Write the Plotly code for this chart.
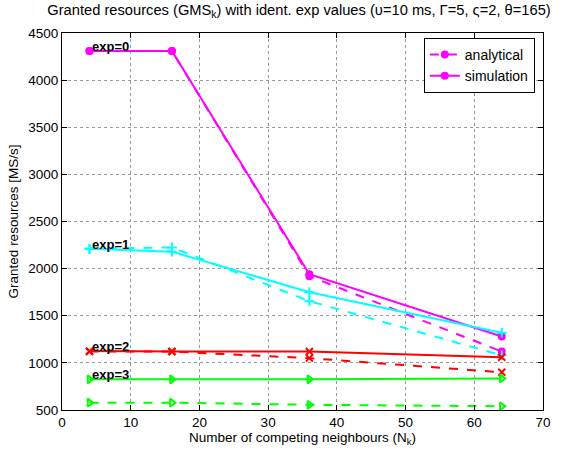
import plotly.graph_objects as go

N = [4, 16, 36, 64]
exp_labels = ["exp=0", "exp=1", "exp=2", "exp=3"]
analytical = {
    "exp=0": [4310, 4310, 1920, 1120],
    "exp=1": [2210, 2225, 1655, 1080],
    "exp=2": [1120, 1120, 1050, 900],
    "exp=3": [578, 578, 555, 540],
}
simulation = {
    "exp=0": [4310, 4310, 1940, 1280],
    "exp=1": [2210, 2180, 1750, 1320],
    "exp=2": [1125, 1120, 1120, 1060],
    "exp=3": [825, 825, 825, 835],
}
colors = {"exp=0": "#ff00ff", "exp=1": "#00ffff", "exp=2": "#ff0000", "exp=3": "#00ff00"}
symbols = {"exp=0": "circle", "exp=1": "cross-thin", "exp=2": "x-thin", "exp=3": "triangle-right-open"}
x_ticks = [0, 10, 20, 30, 40, 50, 60, 70]
y_ticks = [500, 1000, 1500, 2000, 2500, 3000, 3500, 4000, 4500]

fig = go.Figure()
for k in exp_labels:
    c = colors[k]
    msize = 6 if k == "exp=0" else 7
    mk = dict(symbol=symbols[k], size=msize, color=c, line=dict(color=c, width=2))
    fig.add_trace(go.Scatter(x=N, y=analytical[k], mode="lines+markers",
                             line=dict(color=c, width=2, dash="dash"), marker=mk,
                             name="analytical", showlegend=(k == "exp=0")))
    fig.add_trace(go.Scatter(x=N, y=simulation[k], mode="lines+markers",
                             line=dict(color=c, width=2), marker=mk,
                             name="simulation", showlegend=(k == "exp=0")))
    fig.add_annotation(x=N[0], y=simulation[k][0], text="<b>" + k + "</b>", showarrow=False,
                       xanchor="left", yanchor="bottom", xshift=1, yshift=-5,
                       font=dict(size=13, color="black", family="Liberation Sans, Arial"))

axis_common = dict(showline=True, linecolor="black", linewidth=1, mirror="ticks",
                   ticks="inside", ticklen=5, tickcolor="black", automargin=False,
                   showgrid=True, gridcolor="#999999", griddash="dot", gridwidth=1,
                   zeroline=False, tickfont=dict(size=13.5, color="black"))

fig.update_layout(
    width=561, height=452,
    margin=dict(l=62, r=18, t=33, b=42),
    paper_bgcolor="white", plot_bgcolor="white",
    font=dict(family="Liberation Sans, Arial", size=13.5, color="black"),
    title=dict(text="Granted resources (GMS<sub>k</sub>) with ident. exp values (υ=10 ms, Γ=5, ς=2, θ=165)",
               x=0.533, xanchor="center", y=0.99, yanchor="top", font=dict(size=14.7)),
    xaxis=dict(range=[0, 70], tickvals=x_ticks, title=dict(text="Number of competing neighbours (N<sub>k</sub>)", standoff=0, font=dict(size=13.5)), **axis_common),
    yaxis=dict(range=[500, 4500], tickvals=y_ticks, title=dict(text="Granted resources [MS/s]", standoff=6, font=dict(size=13.5)), **axis_common),
    legend=dict(x=0.983, y=0.987, xanchor="right", yanchor="top", bordercolor="black", borderwidth=1,
                bgcolor="white", font=dict(size=14), tracegroupgap=0, itemwidth=30),
)
fig.write_html("out.html", config={"displayModeBar": False},
               post_script="document.body.style.margin='0';document.body.style.padding='0';")
